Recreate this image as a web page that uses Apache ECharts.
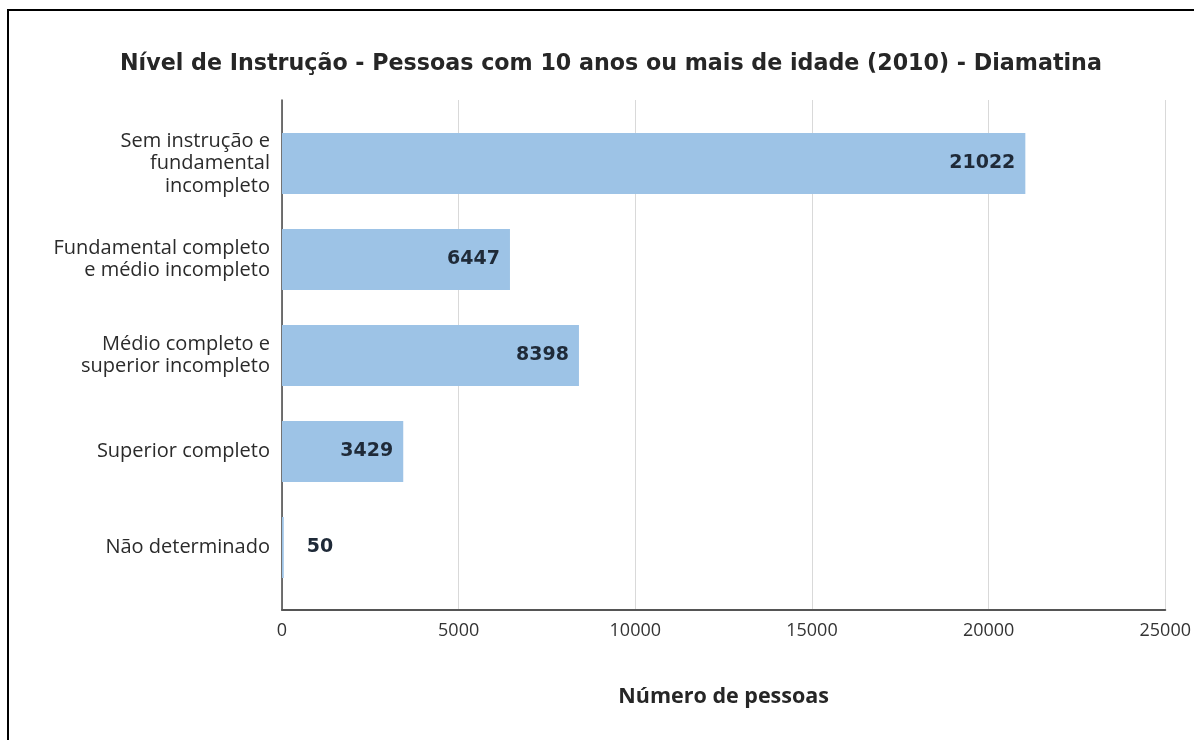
<!DOCTYPE html>
<html>
<head>
<meta charset="utf-8">
<script src="https://cdn.jsdelivr.net/npm/echarts@6/dist/echarts.min.js"></script>
<style>
  html, body { margin: 0; padding: 0; background: #fff; }
  #chart { width: 1194px; height: 740px; }
</style>
</head>
<body>
<div id="chart"></div>
<script>
// Education level, people aged 10+ (2010 census) - Diamantina
const categories = [
  'Sem instrução e\nfundamental\nincompleto',
  'Fundamental completo\ne médio incompleto',
  'Médio completo e\nsuperior incompleto',
  'Superior completo',
  'Não determinado'
];
const values = [21022, 6447, 8398, 3429, 50];
const xTicks = { min: 0, max: 25000, interval: 5000 };

const titleText = 'Nível de Instrução - Pessoas com 10 anos ou mais de idade (2010) - Diamatina';
const xAxisName = 'Número de pessoas';

const chart = echarts.init(document.getElementById('chart'), null, { renderer: 'canvas' });

const plotLeft = 282, plotWidth = 884;

chart.setOption({
  animation: false,
  backgroundColor: '#ffffff',
  title: {
    text: titleText,
    left: 115,
    top: 48,
    textStyle: { fontFamily: 'DejaVu Sans', fontWeight: 'bold', fontSize: 22.2, color: '#262626' }
  },
  graphic: [{
    type: 'rect',
    shape: { x: 8, y: 10, width: 1250, height: 800 },
    style: { fill: 'none', stroke: '#000', lineWidth: 2 },
    silent: true
  }],
  grid: [
    // frame: gridlines and axis lines
    { left: plotLeft, top: 100, width: plotWidth, height: 510 },
    // bars
    { left: plotLeft, top: 115.5, width: plotWidth, height: 480 }
  ],
  xAxis: [{
    gridIndex: 0,
    type: 'value',
    min: xTicks.min, max: xTicks.max, interval: xTicks.interval,
    name: xAxisName,
    nameLocation: 'middle',
    nameGap: 76,
    nameTextStyle: { fontFamily: 'Open Sans', fontWeight: 'bold', fontSize: 21.5, color: '#262626' },
    axisLine: { show: true, lineStyle: { color: '#555', width: 2 } },
    axisTick: { show: false },
    axisLabel: {
      margin: 12,
      fontFamily: 'Open Sans',
      fontSize: 18,
      color: '#333',
      formatter: function (v) { return String(v); }
    },
    splitLine: { show: true, lineStyle: { color: '#d9d9d9', width: 1 } }
  }, {
    gridIndex: 1,
    type: 'value',
    min: xTicks.min, max: xTicks.max,
    show: false,
    splitLine: { show: false }
  }],
  yAxis: [{
    gridIndex: 0,
    type: 'value',
    axisLine: { show: true, lineStyle: { color: '#444', width: 1.5 } },
    axisTick: { show: false },
    axisLabel: { show: false },
    splitLine: { show: false }
  }, {
    gridIndex: 1,
    type: 'category',
    inverse: true,
    data: categories,
    axisLine: { show: false },
    axisTick: { show: false },
    axisLabel: {
      margin: 12,
      align: 'right',
      fontFamily: 'Open Sans',
      fontSize: 20,
      lineHeight: 22.5,
      color: '#2b2b2b'
    }
  }],
  series: [{
    type: 'bar',
    xAxisIndex: 1,
    yAxisIndex: 1,
    data: values.map(function (v) {
      return v < 1000
        ? { value: v, label: { position: 'right', distance: 23 } }
        : v;
    }),
    barWidth: 61,
    itemStyle: { color: '#9dc3e6' },
    label: {
      show: true,
      position: 'insideRight',
      distance: 10,
      fontFamily: 'DejaVu Sans',
      fontWeight: 'bold',
      fontSize: 19,
      color: '#1f2a38'
    }
  }]
});
</script>
</body>
</html>
